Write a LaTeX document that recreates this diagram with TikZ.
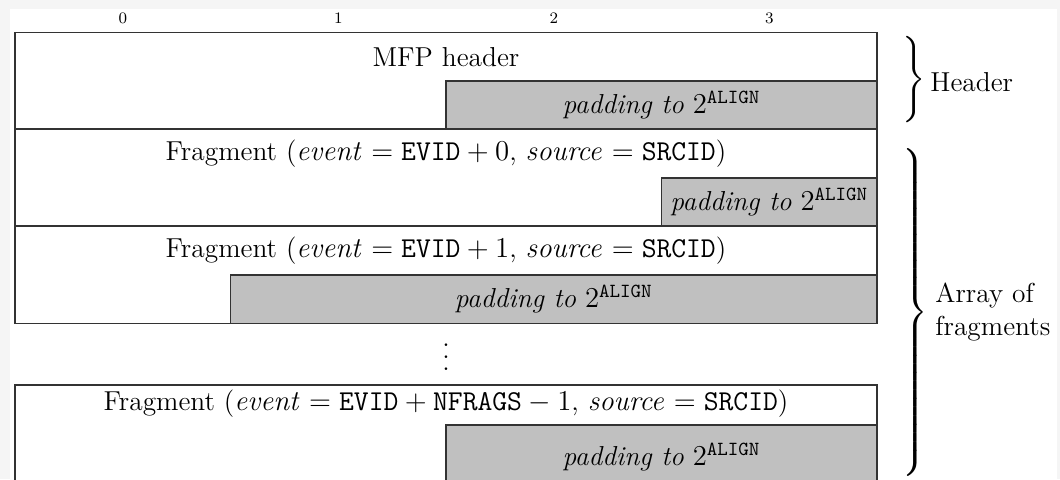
\documentclass[tikz,border=0pt]{standalone}
\usepackage{amsmath}
\definecolor{pagegray}{RGB}{245,245,245}
\definecolor{padgray}{RGB}{192,192,192}
\newcommand{\mainsize}{\fontsize{13.7}{16.5}\selectfont}
\newcommand{\bitsize}{\fontsize{8}{9}\selectfont}
\newcommand{\padtxt}{\textit{padding to} $2^{\mathtt{ALIGN}}$}
\newcommand{\groupbrace}[1]{$\delimitershortfall=0pt\delimiterfactor=1000\left.\vcenter{\hbox{\rule{0pt}{#1}}}\right\}$}
\newcommand{\threedots}{\vbox{\baselineskip=5.85pt\lineskiplimit=-10pt\hbox{.}\hbox{.}\hbox{.}}}
\begin{document}
\begin{tikzpicture}[x=0.5pt,y=-0.5pt,
  wordline/.style={draw=black!80,line width=0.8pt},
  padbox/.style={wordline,fill=padgray},
  lbl/.style={inner sep=0pt,font=\mainsize},
  sidelbl/.style={inner sep=0pt,font=\mainsize,anchor=west,align=left},
  bitnum/.style={inner sep=0pt,font=\bitsize},
  brace/.style={inner sep=0pt,anchor=west,font=\mainsize},
]
\useasboundingbox (0,0) rectangle (1060,479);
\fill[pagegray] (0,0) rectangle (1060,479);
\fill[white] (10,9) rectangle (1057,479);
\begin{scope}
\clip (0,0) rectangle (1060,479);

% bit numbers across the word
\node[bitnum] (b0) at (122.75,18) {0};
\node[bitnum] (b1) at (338.25,18) {1};
\node[bitnum] (b2) at (553.75,18) {2};
\node[bitnum] (b3) at (769.25,18) {3};

% MFP header
\draw[wordline] (15,32.5) rectangle (877,129);
\draw[padbox] (446,81) rectangle (877,129);
\node[lbl] (hdr) at (446,57) {MFP header};
\node[lbl] (hdrpad) at (661.5,105) {\padtxt};

% fragment 0
\draw[wordline] (15,129) rectangle (877,226);
\draw[padbox] (661.5,178) rectangle (877,226);
\node[lbl] (f0) at (446,154) {Fragment ($\mathit{event} = \mathtt{EVID} + 0$, $\mathit{source} = \mathtt{SRCID}$)};
\node[lbl] (f0pad) at (769.25,202) {\padtxt};

% fragment 1
\draw[wordline] (15,226) rectangle (877,323.5);
\draw[padbox] (230.5,275) rectangle (877,323.5);
\node[lbl] (f1) at (446,251) {Fragment ($\mathit{event} = \mathtt{EVID} + 1$, $\mathit{source} = \mathtt{SRCID}$)};
\node[lbl] (f1pad) at (553.75,299) {\padtxt};

% skipped fragments
\node[lbl] (skip) at (446,357) {\threedots};

% last fragment
\draw[wordline] (15,385) rectangle (877,500);
\draw[padbox] (446,425) rectangle (877,500);
\node[lbl] (fn) at (446,404) {Fragment ($\mathit{event} = \mathtt{EVID} + \mathtt{NFRAGS} - 1$, $\mathit{source} = \mathtt{SRCID}$)};
\node[lbl] (fnpad) at (661.5,457) {\padtxt};
\end{scope}

% groupings on the right
\node[brace] (hbrace) at (900,80) {\groupbrace{42pt}};
\node[sidelbl] (hlabel) at (930,82) {Header};
\node[brace] (abrace) at (900,312.5) {\groupbrace{160.5pt}};
\node[sidelbl] (alabel) at (935,312) {Array of\\fragments};
\end{tikzpicture}
\end{document}
